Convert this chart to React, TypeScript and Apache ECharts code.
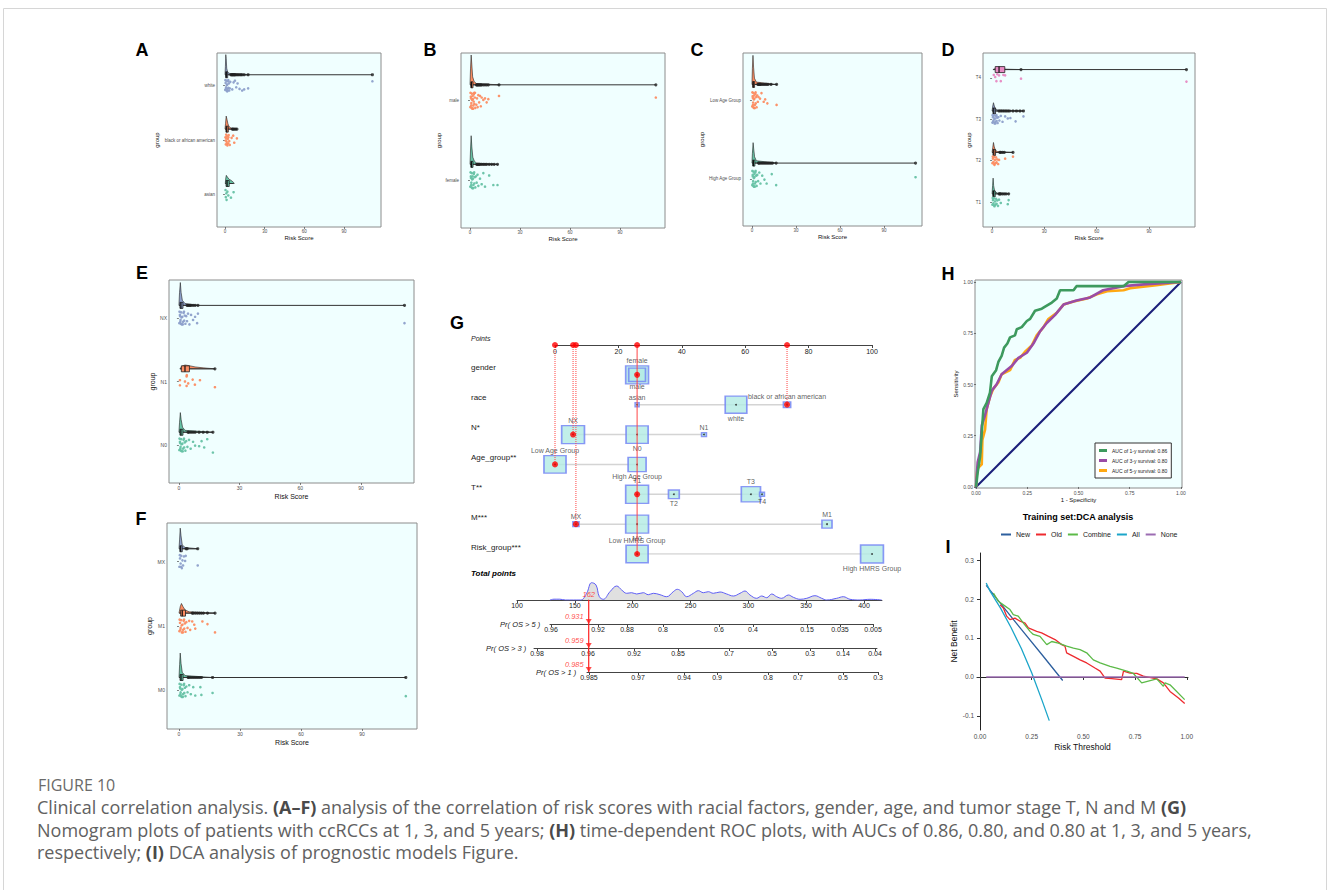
import React, { useEffect, useRef } from "react";
import * as echarts from "echarts";

const FONT = "'Liberation Sans', Arial, Helvetica, sans-serif";
const CAP_FONT = "'Open Sans', 'Noto Sans', sans-serif";
const GREEN = "#66C2A5", ORANGE = "#FC8D62", BLUE = "#8DA0CB", PINK = "#E78AC3";

// ================= Panels A–F : risk score by clinical group =================
const riskTicks = [0, 30, 60, 90];
const cloudCore = [
  [0.2, -0.08], [0.5, 0.05], [0.8, -0.03], [1.1, 0.09], [1.4, -0.1], [1.7, 0.02], [2.0, -0.06], [2.3, 0.08],
  [2.6, -0.04], [2.9, 0.04], [3.2, -0.09], [0.3, 0.1], [0.7, -0.06], [1.3, 0.01], [1.9, -0.1], [2.5, 0.1],
];

const raceGroups = ["asian", "black or african american", "white"];
const raceBoxes = [[0.3, 0.8, 1.6, 3.2, 6.5], [0.2, 0.7, 1.3, 2.5, 5], [0.1, 0.5, 1, 2, 4]];
const raceOutliers = [[], [5.5, 6.2, 7, 8, 9], [4.5, 5, 5.5, 6, 6.5, 7, 7.5, 8, 9, 10, 11, 12, 13, 14.5, 17.5, 111.5]];
const raceViolins = [
  [[0.2, 0], [0.6, 0.1], [1, 0.15], [1.8, 0.12], [3, 0.08], [4.5, 0.06], [6.5, 0.02], [7, 0]],
  [[0, 0], [0.4, 0.1], [0.9, 0.24], [1.5, 0.18], [2.2, 0.1], [3, 0.05], [4.5, 0.02], [9, 0]],
  [[0, 0], [0.3, 0.15], [0.6, 0.37], [0.9, 0.3], [1.3, 0.12], [2, 0.05], [3, 0.03], [5, 0.01], [18, 0]],
];
const racePoints = [
  [[0.4, 0.08], [0.6, -0.05], [1, 0.02], [1.2, -0.1], [1.8, 0.05], [2.5, -0.02], [4.5, -0.06], [6.5, 0.04]],
  [[0.3, 0.05], [0.6, -0.08], [0.9, 0.1], [1.2, -0.03], [1.5, 0.07], [1.8, -0.1], [2.1, 0.02], [2.4, -0.06], [2.8, 0.09], [3.2, -0.02], [0.5, -0.01], [1, 0.03], [1.7, -0.07], [2.6, 0.05], [3.6, -0.09], [5, 0.04], [6.2, 0.08], [7, -0.05], [9, 0.03]],
  [...cloudCore, [4, 0.07], [3.6, -0.05], [5.5, -0.07], [6.5, 0.06], [7.5, 0.09], [8.5, -0.03], [9.5, 0.04], [11, -0.06], [13, -0.09], [14.5, -0.07], [17.5, -0.05], [111.5, 0.08]],
];

const genderGroups = ["female", "male"];
const genderBoxes = [[0.1, 0.5, 0.9, 1.8, 3.6], [0.1, 0.5, 0.9, 1.8, 3.5]];
const genderOutliers = [[4, 4.5, 5, 5.5, 6, 7, 8, 9, 10, 11.5, 13, 14.5, 16.5], [3.8, 4.2, 4.6, 5, 5.5, 6, 6.5, 7, 8, 9, 10, 11, 17.4, 111.5]];
const genderViolins = [
  [[0, 0], [0.3, 0.18], [0.7, 0.36], [1.1, 0.22], [1.7, 0.09], [2.6, 0.04], [4, 0.015], [16.5, 0]],
  [[0, 0], [0.3, 0.2], [0.7, 0.375], [1.1, 0.25], [1.6, 0.1], [2.5, 0.04], [4, 0.015], [17.4, 0]],
];
const genderPoints = [
  [...cloudCore, [0.6, 0.03], [1, -0.09], [1.6, 0.05], [3.6, 0.05], [4, -0.03], [4.5, 0.07], [5, -0.07], [6, 0.02], [7, -0.05], [8, 0.09], [9, -0.08], [11.5, 0.06], [14, -0.06], [16.5, -0.06]],
  [...cloudCore, [0.6, 0.03], [1, -0.09], [1.6, 0.06], [2.2, -0.01], [3, 0.1], [3.8, -0.05], [4.2, 0.03], [4.6, -0.08], [5, 0.07], [5.5, -0.02], [6, 0.06], [6.5, -0.07], [7, 0.04], [8, 0.01], [9, 0.03], [10, -0.02], [11, 0.02], [17.4, 0.06], [111.5, 0.04]],
];

const ageGroups = ["High Age Group", "Low Age Group"];
const ageBoxes = [[0.1, 0.5, 1, 2, 4], [0.1, 0.5, 0.9, 1.8, 3.5]];
const ageOutliers = [[4.5, 5, 6, 7, 8, 9, 10, 11, 12, 13, 14, 16.5, 111.5], [4, 4.5, 5, 5.5, 6, 7, 8, 9, 10, 11, 13, 16.8]];
const ageViolins = [
  [[0, 0], [0.3, 0.12], [0.8, 0.26], [1.2, 0.18], [1.8, 0.08], [3, 0.03], [16.5, 0]],
  [[0, 0], [0.3, 0.2], [0.7, 0.37], [1.1, 0.22], [1.7, 0.08], [3, 0.03], [16.8, 0]],
];
const agePoints = [
  [...cloudCore, [0.6, 0.03], [1, -0.09], [1.6, 0.06], [3.6, 0.05], [4.2, -0.03], [5, 0.08], [5.8, -0.06], [7, 0.04], [8.5, -0.01], [10, -0.06], [13.5, 0.06], [16.5, -0.08], [111.5, 0.02]],
  [...cloudCore, [0.6, 0.03], [1, -0.09], [1.6, 0.06], [3.6, 0.06], [4, -0.02], [4.5, 0.04], [5.5, 0.02], [6.5, 0.09], [8, -0.02], [9, 0.01], [10.5, -0.04], [16.8, -0.06]],
];

const tGroups = ["T1", "T2", "T3", "T4"];
const tBoxes = [[0.1, 0.4, 0.9, 1.8, 3.5], [0.1, 0.5, 1, 2, 4], [0.1, 0.5, 1, 2, 4], [0.8, 1.8, 4, 7.3, 8.5]];
const tOutliers = [[4, 4.5, 5, 6, 7, 8, 9.5], [4.5, 5, 6, 7, 12], [4, 5, 6, 7, 8, 9, 10, 12, 14, 16, 18], [16.6, 111.5]];
const tViolins = [
  [[0, 0], [0.3, 0.2], [0.6, 0.38], [0.9, 0.2], [1.5, 0.06], [3, 0.02], [9.5, 0]],
  [[0, 0], [0.4, 0.12], [0.8, 0.24], [1.2, 0.15], [1.8, 0.06], [3, 0.02], [12, 0]],
  [[0, 0], [0.4, 0.12], [0.8, 0.2], [1.3, 0.12], [2, 0.05], [3.5, 0.02], [18, 0]],
  [[0.5, 0], [2, 0.03], [4, 0.04], [6, 0.03], [8, 0.01], [16.6, 0]],
];
const tPoints = [
  [[0.2, -0.06], [0.5, 0.05], [0.8, -0.03], [1.1, 0.09], [1.4, -0.1], [1.7, 0.02], [2, -0.06], [2.3, 0.08], [2.6, -0.04], [3, 0.04], [0.4, 0.1], [1.2, -0.08], [3.4, -0.09], [4, 0.06], [5, -0.02], [9, -0.05], [9.5, 0.05]],
  [[0.2, -0.06], [0.5, 0.05], [0.8, -0.03], [1.1, 0.09], [1.4, -0.1], [1.7, 0.02], [2, -0.06], [2.3, 0.08], [2.6, -0.04], [3, 0.03], [0.4, 0.1], [1.2, -0.08], [3.5, -0.08], [4, 0.02], [7.5, 0.05], [12, 0.1]],
  [...cloudCore, [3.6, 0.05], [4.2, -0.03], [5, 0.08], [6, -0.06], [7.5, 0.07], [9, 0.02], [10.5, 0.03], [13.5, -0.05], [18, 0.07]],
  [[1, 0.07], [1.8, 0.02], [2.5, -0.08], [3, 0.09], [4, 0.06], [5, -0.08], [6.5, 0.07], [7.5, 0.06], [16.6, -0.02], [111.5, -0.09]],
];

const nGroups = ["N0", "N1", "NX"];
const nBoxes = [[0.1, 0.5, 1, 2, 4], [0.5, 1.2, 3, 5.2, 10.5], [0.1, 0.5, 1, 2, 3.8]];
const nOutliers = [[4.5, 5, 6, 7, 8, 10, 12, 14, 16.8], [17.8], [4, 4.5, 5, 5.5, 6, 7, 8, 9.4, 111.5]];
const nViolins = [
  [[0, 0], [0.3, 0.15], [0.7, 0.31], [1.1, 0.2], [1.8, 0.08], [3, 0.03], [16.8, 0]],
  [[0.5, 0], [1.5, 0.04], [3, 0.06], [5, 0.05], [8, 0.03], [12, 0.015], [17.8, 0]],
  [[0, 0], [0.3, 0.2], [0.7, 0.36], [1.1, 0.2], [1.7, 0.08], [3, 0.03], [9.4, 0]],
];
const nPoints = [
  [...cloudCore, [0.6, 0.03], [1, -0.09], [3.6, 0.06], [4.2, -0.03], [5, 0.08], [5.8, -0.06], [7, 0.05], [8, -0.01], [10, -0.02], [11.2, 0.06], [12.5, -0.04], [14, 0.09], [16.8, -0.12]],
  [[0.5, 0.02], [0.5, -0.06], [3, 0], [3.8, 0.08], [3.9, 0.1], [3.8, -0.07], [4.6, -0.03], [6.8, 0.03], [7.9, -0.05], [10.4, 0.02], [17.8, -0.09]],
  [...cloudCore, [0.6, 0.03], [1, -0.09], [3.6, 0.03], [4, -0.05], [4.5, 0.07], [5.2, -0.1], [6, 0.05], [7, -0.03], [8, 0.02], [9.4, 0.07], [9, -0.08], [111.5, -0.08]],
];

const mGroups = ["M0", "M1", "MX"];
const mBoxes = [[0.1, 0.5, 1, 2, 4], [0.2, 0.8, 1.6, 3.2, 6], [0.1, 0.4, 0.8, 1.6, 3.2]];
const mOutliers = [[4.5, 5, 6, 7, 8, 9, 10, 11, 16.5, 111.5], [6.5, 7, 8, 9, 10, 11, 12, 14, 17.7], [3.5, 4, 9.2]];
const mViolins = [
  [[0, 0], [0.3, 0.2], [0.6, 0.38], [1, 0.22], [1.6, 0.08], [3, 0.03], [16.5, 0]],
  [[0, 0], [0.6, 0.1], [1.2, 0.15], [2, 0.1], [3, 0.05], [5, 0.02], [17.7, 0]],
  [[0, 0], [0.3, 0.15], [0.6, 0.32], [1, 0.2], [1.6, 0.06], [3, 0.02], [9.2, 0]],
];
const mPoints = [
  [...cloudCore, [0.6, 0.03], [1, -0.09], [3.6, 0.06], [4.2, -0.03], [5, 0.08], [5.8, -0.06], [7, 0.05], [8, -0.08], [10.5, 0.05], [11, -0.07], [16.5, -0.04], [111.5, -0.09]],
  [...cloudCore, [3.6, 0.06], [4.2, -0.03], [5, 0.08], [5.5, -0.06], [6.5, 0.07], [7.5, 0.02], [8, -0.04], [11.5, 0.07], [14, 0.03], [17.7, -0.1]],
  [[0.2, -0.08], [0.5, 0.05], [0.8, -0.03], [1.1, 0.09], [1.4, -0.1], [1.7, 0.02], [2, -0.06], [2.4, 0.08], [0.4, 0.1], [1, -0.08], [3, 0.01], [3.3, 0.09], [9.2, -0.06]],
];

// ================= Panel G : nomogram =================
const nomoRowNames = ["Points", "gender", "race", "N*", "Age_group**", "T**", "M***", "Risk_group***"];
const nomoLevels = [
  ["female", "male"],
  ["asian", "white", "black or african american"],
  ["NX", "N0", "N1"],
  ["Low Age Group", "High Age Group"],
  ["T1", "T2", "T3", "T4"],
  ["MX", "M0", "M1"],
  ["Low HMRS Group", "High HMRS Group"],
];
const nomoPoints = [[25.9, 25.9], [25.9, 57.1, 73.2], [5.7, 25.9, 47], [0, 25.9], [25.9, 37.5, 61.8, 65.3], [6.6, 25.9, 85.8], [25.9, 100]];
const nomoShare = [[0.95, 0.7], [0.12, 0.9, 0.3], [0.95, 0.92, 0.2], [0.92, 0.75], [0.95, 0.45, 0.8, 0.2], [0.25, 0.95, 0.42], [0.92, 0.95]];
const nomoLabelSide = [["top", "bottom"], ["top", "bottom", "top"], ["top", "bottom", "top"], ["top", "bottom"], ["top", "bottom", "top", "bottom"], ["top", "bottom", "top"], ["top", "bottom"]];
const patientLevel = [0, 2, 0, 0, 0, 0, 0];

const totalTicks = [100, 150, 200, 250, 300, 350, 400];
const totalRange = [100, 415.5];
const totalDensity = [
  [128.5, 0], [132, 0.8], [137, 0.8], [142, 0], [155, 0], [160.2, 6.7], [164.5, 17.3], [168.3, 15], [171.2, 3.3], [174.6, 0.7],
  [180.4, 8.3], [186.2, 14], [190.5, 10], [194.8, 6.7], [199.1, 7.3], [203.5, 6], [209.2, 7.3], [213.5, 5.3], [217.9, 6.7],
  [223.6, 5.3], [229.4, 3.3], [235.1, 8.3], [238.6, 10.7], [242.4, 8.3], [246.7, 3.3], [252.5, 6.7], [256.8, 9.3], [261.1, 7.3],
  [265.4, 8.3], [269.7, 6.7], [275.5, 8], [281.3, 6], [287, 4], [292.8, 6.7], [297.1, 9], [301.4, 5], [307.2, 1.7], [311.5, 4],
  [315.9, 2.3], [320.2, 6], [324.5, 3.3], [328.8, 1.7], [334.6, 5], [338.9, 2.7], [344.7, 0.7], [350.5, 1.7], [357.6, 4.3],
  [363.4, 1.7], [367.7, 0], [376.4, 1.7], [382.1, 3.3], [387.9, 0.7], [396.5, 0], [405.2, 0.7], [415.3, 0],
];
const pr5Labels = ["0.96", "0.92", "0.88", "0.8", "0.6", "0.4", "0.15", "0.035", "0.005"];
const pr5At = [129.4, 170.0, 195.1, 226.2, 274.6, 304.0, 350.7, 379.2, 407.8];
const pr5Range = [128.5, 407.8];
const pr3Labels = ["0.98", "0.96", "0.92", "0.85", "0.7", "0.5", "0.3", "0.14", "0.04"];
const pr3At = [117.3, 161.4, 201.2, 239.2, 283.3, 320.5, 353.3, 381.8, 409.5];
const pr3Range = [114.7, 411.2];
const pr1Labels = ["0.985", "0.97", "0.94", "0.9", "0.8", "0.7", "0.5", "0.3"];
const pr1At = [162.2, 204.6, 244.4, 272.9, 317.0, 342.9, 381.8, 412.1];
const pr1Range = [160.5, 412.1];
const patientTotal = 162;
const patientPr = ["0.931", "0.959", "0.985"];

// ================= Panel H : ROC =================
const unitTicks = [0, 0.25, 0.5, 0.75, 1];
const rocNames = ["AUC of 1-y survival: 0.86", "AUC of 3-y survival: 0.80", "AUC of 5-y survival: 0.80"];
const roc1 = [[0, 0], [0.008, 0.07], [0.02, 0.15], [0.036, 0.38], [0.052, 0.41], [0.068, 0.46], [0.077, 0.54], [0.098, 0.57], [0.109, 0.61], [0.125, 0.64], [0.137, 0.68], [0.153, 0.7], [0.166, 0.73], [0.19, 0.74], [0.199, 0.77], [0.223, 0.78], [0.248, 0.81], [0.264, 0.82], [0.288, 0.86], [0.321, 0.87], [0.337, 0.88], [0.37, 0.9], [0.394, 0.92], [0.41, 0.96], [0.476, 0.96], [0.49, 0.98], [0.72, 0.98], [0.744, 1], [1, 1]];
const roc3 = [[0, 0], [0.003, 0.05], [0.008, 0.12], [0.02, 0.17], [0.028, 0.3], [0.044, 0.35], [0.06, 0.41], [0.077, 0.47], [0.1, 0.5], [0.125, 0.55], [0.174, 0.59], [0.207, 0.63], [0.248, 0.655], [0.28, 0.7], [0.313, 0.76], [0.345, 0.8], [0.386, 0.84], [0.427, 0.89], [0.49, 0.91], [0.557, 0.925], [0.62, 0.96], [0.72, 0.98], [0.834, 0.99], [1, 1]];
const roc5 = [[0, 0], [0.003, 0.05], [0.007, 0.09], [0.028, 0.11], [0.031, 0.23], [0.044, 0.28], [0.052, 0.38], [0.068, 0.44], [0.085, 0.48], [0.109, 0.51], [0.125, 0.55], [0.166, 0.57], [0.19, 0.62], [0.215, 0.63], [0.239, 0.66], [0.272, 0.69], [0.296, 0.74], [0.329, 0.78], [0.353, 0.82], [0.394, 0.85], [0.427, 0.89], [0.476, 0.905], [0.541, 0.92], [0.59, 0.94], [0.64, 0.955], [0.72, 0.96], [0.752, 0.97], [0.88, 0.985], [1, 1]];
const rocDiag = [[0, 0], [1, 1]];

// ================= Panel I : DCA =================
const dcaNames = ["New", "Old", "Combine", "All", "None"];
const netTicks = [-0.1, 0, 0.1, 0.2, 0.3];
const dcaNew = [[0.03, 0.235], [0.1, 0.188], [0.2, 0.122], [0.3, 0.057], [0.4, -0.009]];
const dcaOld = [[0.097, 0.185], [0.113, 0.177], [0.129, 0.156], [0.145, 0.147], [0.169, 0.151], [0.194, 0.143], [0.218, 0.138], [0.234, 0.126], [0.274, 0.117], [0.298, 0.113], [0.331, 0.104], [0.363, 0.096], [0.395, 0.083], [0.411, 0.079], [0.419, 0.062], [0.452, 0.053], [0.484, 0.044], [0.516, 0.036], [0.556, 0.023], [0.581, 0.015], [0.605, -0.003], [0.637, -0.004], [0.685, -0.007], [0.694, 0.015], [0.726, 0.01], [0.758, 0.009], [0.79, 0.002], [0.855, -0.005], [0.887, -0.015], [0.919, -0.037], [0.96, -0.054], [0.99, -0.068]];
const dcaCombine = [[0.065, 0.215], [0.089, 0.194], [0.113, 0.185], [0.145, 0.173], [0.161, 0.16], [0.185, 0.156], [0.21, 0.138], [0.242, 0.117], [0.258, 0.109], [0.29, 0.104], [0.323, 0.083], [0.347, 0.091], [0.379, 0.087], [0.419, 0.079], [0.452, 0.074], [0.484, 0.07], [0.516, 0.062], [0.548, 0.044], [0.581, 0.036], [0.629, 0.027], [0.661, 0.023], [0.71, 0.015], [0.742, 0.009], [0.782, -0.015], [0.855, -0.005], [0.887, -0.024], [0.895, -0.015], [0.919, -0.02], [0.99, -0.058]];
const dcaAll = [[0.03, 0.241], [0.05, 0.219], [0.1, 0.176], [0.15, 0.127], [0.2, 0.073], [0.25, 0.011], [0.3, -0.06], [0.335, -0.112]];
const dcaNone = [[0.03, 0], [0.99, 0]];

const captionLines = [
  "Clinical correlation analysis. {b|(A\u2013F)} analysis of the correlation of risk scores with racial factors, gender, age, and tumor stage T, N and M {b|(G)}",
  "Nomogram plots of patients with ccRCCs at 1, 3, and 5 years; {b|(H)} time-dependent ROC plots, with AUCs of 0.86, 0.80, and 0.80 at 1, 3, and 5 years,",
  "respectively; {b|(I)} DCA analysis of prognostic models Figure.",
];

const rainPanels = [
  { rect: [217, 53, 164, 174], x: [-6.05, 118], names: raceGroups, colors: [GREEN, ORANGE, BLUE], boxes: raceBoxes, outliers: raceOutliers, violins: raceViolins, points: racePoints, yGap: 57, xGap: 8, fs: 4.5, ts: 6 },
  { rect: [461, 53, 204, 175], x: [-5.4, 117], names: genderGroups, colors: [GREEN, ORANGE], boxes: genderBoxes, outliers: genderOutliers, violins: genderViolins, points: genderPoints, yGap: 17, xGap: 8, fs: 4.5, ts: 6 },
  { rect: [743, 53, 179, 173], x: [-6.1, 115.9], names: ageGroups, colors: [GREEN, ORANGE], boxes: ageBoxes, outliers: ageOutliers, violins: ageViolins, points: agePoints, yGap: 36, xGap: 8, fs: 4.5, ts: 6 },
  { rect: [983, 53, 212, 174], x: [-5.2, 116.4], names: tGroups, colors: [GREEN, ORANGE, BLUE, PINK], boxes: tBoxes, outliers: tOutliers, violins: tViolins, points: tPoints, yGap: 9, xGap: 8, fs: 4.5, ts: 6 },
  { rect: [169, 280, 245, 203], x: [-4.9, 116.2], names: nGroups, colors: [GREEN, ORANGE, BLUE], boxes: nBoxes, outliers: nOutliers, violins: nViolins, points: nPoints, yGap: 13, xGap: 10, fs: 5, ts: 7 },
  { rect: [167, 523, 250, 206], x: [-5.9, 117], names: mGroups, colors: [GREEN, ORANGE, BLUE], boxes: mBoxes, outliers: mOutliers, violins: mViolins, points: mPoints, yGap: 14, xGap: 10, fs: 5, ts: 7 },
];

function nearest(arr: number[], v: number) {
  let bi = 0;
  arr.forEach((a, i) => { if (Math.abs(a - v) < Math.abs(arr[bi] - v)) bi = i; });
  return bi;
}

function buildOption() {
  const grid: any[] = [], xAxis: any[] = [], yAxis: any[] = [], series: any[] = [], graphic: any[] = [];
  const hidden = { show: false };

  // ---------- A–F ----------
  rainPanels.forEach((p) => {
    const gi = grid.length;
    grid.push({ left: p.rect[0], top: p.rect[1], width: p.rect[2], height: p.rect[3], show: true, backgroundColor: "#F0FFFF", borderColor: "#8c8c8c", borderWidth: 1 });
    const cats = p.names.map((_: any, i: number) => i + 1);
    xAxis.push({
      gridIndex: gi, type: "value", min: p.x[0], max: p.x[1], splitLine: hidden, axisLine: hidden,
      axisTick: { show: true, customValues: riskTicks, length: 2, lineStyle: { color: "#333", width: 0.6 } },
      axisLabel: { customValues: riskTicks, fontSize: p.fs, color: "#4d4d4d", margin: 2 },
      name: "Risk Score", nameLocation: "middle", nameGap: p.xGap, nameTextStyle: { fontSize: p.ts, color: "#111" },
    });
    yAxis.push({
      gridIndex: gi, type: "value", min: 0.4, max: p.names.length + 0.6, splitLine: hidden, axisLine: hidden,
      axisTick: { show: true, customValues: cats, length: 2, lineStyle: { color: "#333", width: 0.6 } },
      axisLabel: { customValues: cats, formatter: (v: number) => p.names[Math.round(v) - 1], fontSize: p.fs, color: "#4d4d4d", margin: 2 },
      name: "group", nameLocation: "middle", nameGap: p.yGap, nameRotate: 90, nameTextStyle: { fontSize: p.ts, color: "#111" },
    });
    // half violins
    series.push({
      type: "custom", xAxisIndex: gi, yAxisIndex: gi, clip: false, silent: true,
      data: p.names.map((_: any, i: number) => [0, i + 1, i]), encode: { x: 0, y: 1 },
      renderItem: (params: any, api: any) => {
        const g = api.value(2);
        const prof = p.violins[g];
        const base = g + 1.2;
        const pts = prof.map((d: number[]) => api.coord([d[0], base + d[1]]));
        pts.push(api.coord([prof[prof.length - 1][0], base]));
        pts.push(api.coord([prof[0][0], base]));
        return { type: "polygon", shape: { points: pts }, style: { fill: p.colors[g], stroke: "#222", lineWidth: 0.6 } };
      },
    });
    // box + connecting line
    series.push({
      type: "custom", xAxisIndex: gi, yAxisIndex: gi, clip: false, silent: true,
      data: p.names.map((_: any, i: number) => [0, i + 1, i]), encode: { x: 0, y: 1 },
      renderItem: (params: any, api: any) => {
        const g = api.value(2);
        const [lo, q1, med, q3, hi] = p.boxes[g];
        const y = g + 1.2;
        const far = Math.max(hi, ...p.outliers[g]);
        const a = api.coord([lo, y]), b = api.coord([far, y]);
        const c1 = api.coord([q1, y]), c3 = api.coord([q3, y]), m = api.coord([med, y]);
        const bh = 3;
        return {
          type: "group", children: [
            { type: "line", shape: { x1: a[0], y1: a[1], x2: b[0], y2: b[1] }, style: { stroke: "#333", lineWidth: 1 } },
            { type: "rect", shape: { x: c1[0], y: c1[1] - bh, width: Math.max(c3[0] - c1[0], 1.5), height: 2 * bh }, style: { fill: p.colors[g], stroke: "#222", lineWidth: 0.8 } },
            { type: "line", shape: { x1: m[0], y1: m[1] - bh, x2: m[0], y2: m[1] + bh }, style: { stroke: "#111", lineWidth: 1.2 } },
          ],
        };
      },
    });
    // outliers
    series.push({
      type: "scatter", xAxisIndex: gi, yAxisIndex: gi, symbolSize: 3.2, silent: true,
      itemStyle: { color: "#222" },
      data: p.outliers.flatMap((arr: number[], g: number) => arr.map((x) => [x, g + 1.2])),
    });
    // jittered points
    p.points.forEach((arr: number[][], g: number) => {
      series.push({
        type: "scatter", xAxisIndex: gi, yAxisIndex: gi, symbolSize: 2.6, silent: true,
        itemStyle: { color: p.colors[g], opacity: 0.95 },
        data: arr.map((d) => [d[0], g + 1 + d[1]]),
      });
    });
  });

  // ---------- H : ROC ----------
  const gH = grid.length;
  grid.push({ left: 975, top: 280, width: 207, height: 208, show: true, backgroundColor: "#F0FFFF", borderColor: "#8c8c8c", borderWidth: 1 });
  const unitAxis = (gi: number, min: number, max: number, name: string, gap: number, rotate?: number) => ({
    gridIndex: gi, type: "value", min, max, splitLine: hidden, axisLine: hidden,
    axisTick: { show: true, customValues: unitTicks, length: 2, lineStyle: { color: "#333", width: 0.6 } },
    axisLabel: { customValues: unitTicks, formatter: (v: number) => v.toFixed(2), fontSize: 5, color: "#4d4d4d", margin: 2 },
    name, nameLocation: "middle", nameGap: gap, nameRotate: rotate, nameTextStyle: { fontSize: 6, color: "#111" },
  });
  xAxis.push(unitAxis(gH, -0.005, 1.005, "1 - Specificity", 9));
  yAxis.push(unitAxis(gH, -0.005, 1.01, "Sensitivity", 16, 90));
  series.push({ type: "line", name: "diag", xAxisIndex: gH, yAxisIndex: gH, data: rocDiag, symbol: "none", lineStyle: { color: "#1B1F7A", width: 2 }, silent: true });
  const rocColors = ["#3D9A5E", "#9A4CA6", "#FFA812"];
  [roc1, roc3, roc5].forEach((d, i) => {
    series.push({ type: "line", name: rocNames[i], xAxisIndex: gH, yAxisIndex: gH, data: d, symbol: "none", lineStyle: { color: rocColors[i], width: 2.6 }, itemStyle: { color: rocColors[i] }, silent: true, z: 3 + (2 - i) });
  });

  // ---------- I : DCA ----------
  const gI = grid.length;
  grid.push({ left: 977, top: 553, width: 211, height: 177 });
  xAxis.push({
    gridIndex: gI, type: "value", min: -0.0145, max: 1.006, splitLine: hidden,
    axisLine: { show: true, lineStyle: { color: "#222", width: 1 } },
    axisTick: { show: true, customValues: unitTicks, length: 3, lineStyle: { color: "#333" } },
    axisLabel: { customValues: unitTicks, formatter: (v: number) => v.toFixed(2), fontSize: 6.5, color: "#4d4d4d", margin: 3 },
    name: "Risk Threshold", nameLocation: "middle", nameGap: 12, nameTextStyle: { fontSize: 8.5, color: "#111" },
  });
  yAxis.push({
    gridIndex: gI, type: "value", min: -0.136, max: 0.318, splitLine: hidden,
    axisLine: { show: true, lineStyle: { color: "#222", width: 1 } },
    axisTick: { show: true, customValues: netTicks, length: 3, lineStyle: { color: "#333" } },
    axisLabel: { customValues: netTicks, formatter: (v: number) => v.toFixed(1), fontSize: 6.5, color: "#4d4d4d", margin: 3 },
    name: "Net Benefit", nameLocation: "middle", nameGap: 19, nameRotate: 90, nameTextStyle: { fontSize: 8.5, color: "#111" },
  });
  const dcaColors = ["#2D5F9E", "#EE2A2F", "#5CBA48", "#1BA5C9", "#9C6CB2"];
  [dcaNew, dcaOld, dcaCombine, dcaAll, dcaNone].forEach((d, i) => {
    series.push({ type: "line", name: dcaNames[i], xAxisIndex: gI, yAxisIndex: gI, data: d, symbol: "none", lineStyle: { color: dcaColors[i], width: 1.3 }, itemStyle: { color: dcaColors[i] }, silent: true });
  });

  // ---------- G : nomogram ----------
  const gN = grid.length;
  grid.push({ left: 555, top: 345, width: 317, height: 209 });
  xAxis.push({
    gridIndex: gN, type: "value", min: 0, max: 100, interval: 20, position: "top", splitLine: hidden,
    axisLine: { show: true, lineStyle: { color: "#444", width: 1 } },
    axisTick: { show: true, inside: true, length: 3, lineStyle: { color: "#444" } },
    axisLabel: { inside: true, fontSize: 7, color: "#222", margin: 3 },
  });
  const rowIdx = nomoRowNames.map((_, i) => i);
  yAxis.push({
    gridIndex: gN, type: "value", min: 0, max: 7, inverse: true, splitLine: hidden, axisLine: hidden, axisTick: hidden,
    axisLabel: {
      customValues: rowIdx, align: "left", margin: 84, verticalAlign: "bottom", padding: [0, 0, 3, 0],
      formatter: (v: number) => (Math.round(v) === 0 ? "{it|Points}" : nomoRowNames[Math.round(v)]),
      fontSize: 8, color: "#222", rich: { it: { fontStyle: "italic", fontSize: 7, color: "#222" } },
    },
  });
  nomoLevels.forEach((_, i) => {
    const pts = nomoPoints[i];
    series.push({ type: "line", xAxisIndex: gN, yAxisIndex: gN, data: [[Math.min(...pts), i + 1], [Math.max(...pts), i + 1]], symbol: "none", lineStyle: { color: "#D4D4D4", width: 1.5 }, silent: true, z: 1 });
  });
  const boxData: any[] = [];
  const dotData: any[] = [];
  nomoLevels.forEach((levels, i) => levels.forEach((name, j) => {
    const s = nomoShare[i][j];
    boxData.push({ name, value: [nomoPoints[i][j], i + 1], symbolSize: [Math.max(4, s * 24), Math.max(4, s * 19)], label: { show: true, position: nomoLabelSide[i][j], distance: 1, formatter: "{b}" } });
    dotData.push([nomoPoints[i][j], i + 1]);
  }));
  series.push({ type: "scatter", xAxisIndex: gN, yAxisIndex: gN, symbol: "rect", data: boxData, itemStyle: { color: "#B2EBE3", borderColor: "#6F80F5", borderWidth: 1.5 }, label: { fontSize: 7, color: "#333" }, labelLayout: { hideOverlap: false }, silent: true, z: 3 });
  series.push({ type: "scatter", xAxisIndex: gN, yAxisIndex: gN, symbolSize: 1.8, data: dotData, itemStyle: { color: "#111" }, silent: true, z: 4 });
  const selX = patientLevel.map((l, i) => nomoPoints[i][l]);
  const uniqX = Array.from(new Set(selX));
  uniqX.forEach((x) => {
    const rows = selX.map((v, i) => (v === x ? i + 1 : -1)).filter((r) => r > 0);
    series.push({ type: "line", xAxisIndex: gN, yAxisIndex: gN, data: [[x, 0], [x, Math.max(...rows)]], symbol: "none", lineStyle: { color: "#FF4545", width: 1, type: rows.length > 1 ? "solid" : "dotted" }, silent: true, z: 5 });
  });
  series.push({
    type: "scatter", xAxisIndex: gN, yAxisIndex: gN, symbolSize: 6, itemStyle: { color: "#FF0000" }, silent: true, z: 6,
    data: [...selX.map((x, i) => [x, i + 1]), ...uniqX.map((x) => [x, 0])],
  });

  // total points
  const TP_PX0 = 517, TP_K = 1.1567;
  const tpLeft = (v: number) => TP_PX0 + (v - 100) * TP_K;
  const gT = grid.length;
  grid.push({ left: tpLeft(totalRange[0]), top: 575, width: (totalRange[1] - totalRange[0]) * TP_K, height: 25 });
  xAxis.push({
    gridIndex: gT, type: "value", min: totalRange[0], max: totalRange[1], splitLine: hidden,
    axisLine: { show: true, lineStyle: { color: "#444", width: 1 } },
    axisTick: { show: true, customValues: totalTicks, length: 3, lineStyle: { color: "#444" } },
    axisLabel: { customValues: totalTicks, fontSize: 7, color: "#222", margin: 2 },
  });
  yAxis.push({ gridIndex: gT, type: "value", min: 0, max: 25, show: false });
  series.push({ type: "line", xAxisIndex: gT, yAxisIndex: gT, data: totalDensity, smooth: 0.4, symbol: "none", lineStyle: { color: "#5E5EF5", width: 1 }, areaStyle: { color: "#E0E0E0", opacity: 1 }, silent: true });

  const prDefs = [
    [pr5At, pr5Labels, pr5Range, "Pr( OS > 5 )"],
    [pr3At, pr3Labels, pr3Range, "Pr( OS > 3 )"],
    [pr1At, pr1Labels, pr1Range, "Pr( OS > 1 )"],
  ] as any[];
  prDefs.forEach(([at, labels, range, name], k) => {
    const gi = grid.length;
    const rowY = 600 + 24 * (k + 1);
    grid.push({ left: tpLeft(range[0]), width: (range[1] - range[0]) * TP_K, top: rowY - 10, height: 10 });
    xAxis.push({
      gridIndex: gi, type: "value", min: range[0], max: range[1], splitLine: hidden,
      axisLine: { show: true, lineStyle: { color: "#444", width: 1 } },
      axisTick: { show: true, customValues: at, length: 3, lineStyle: { color: "#444" } },
      axisLabel: { customValues: at, formatter: (v: number) => labels[nearest(at, v)], fontSize: 7, color: "#222", margin: 2 },
      name, nameLocation: "start", nameGap: 2, nameTextStyle: { fontStyle: "italic", fontSize: 7.5, color: "#222", padding: [0, 0, 5, 0] },
    });
    yAxis.push({ gridIndex: gi, type: "value", min: 0, max: 1, show: false });
  });

  // patient marker overlay
  const gO = grid.length;
  grid.push({ left: tpLeft(totalRange[0]), top: 600, width: (totalRange[1] - totalRange[0]) * TP_K, height: 72 });
  xAxis.push({ gridIndex: gO, type: "value", min: totalRange[0], max: totalRange[1], show: false });
  yAxis.push({ gridIndex: gO, type: "value", min: 0, max: 3, inverse: true, show: false });
  series.push({ type: "line", xAxisIndex: gO, yAxisIndex: gO, data: [[patientTotal, 0], [patientTotal, 3]], symbol: "none", lineStyle: { color: "#FF2020", width: 1.2 }, silent: true, z: 6 });
  series.push({
    type: "scatter", xAxisIndex: gO, yAxisIndex: gO, symbol: "triangle", symbolRotate: 180, symbolSize: [6, 5], symbolOffset: [0, -2.5],
    itemStyle: { color: "#FF2020" }, silent: true, z: 7,
    data: patientPr.map((t, k) => ({ value: [patientTotal, k + 1], name: t })),
    label: { show: true, position: "left", distance: 2, offset: [0, -5], formatter: "{b}", color: "#FF2020", fontStyle: "italic", fontSize: 7.5 },
  });
  series.push({
    type: "scatter", xAxisIndex: gO, yAxisIndex: gO, symbolSize: 1, itemStyle: { color: "#FF2020" }, silent: true, z: 7,
    data: [{ value: [patientTotal, 0], name: String(patientTotal) }],
    label: { show: true, position: "top", distance: 1, formatter: "{b}", color: "#FF2020", fontStyle: "italic", fontSize: 7.5 },
  });

  // ---------- graphic texts ----------
  graphic.push({ type: "rect", silent: true, z: -10, shape: { x: 3.5, y: 8.5, width: 1323, height: 900 }, style: { fill: "none", stroke: "#d6d6d6", lineWidth: 1 } });
  const letters: [string, number, number][] = [["A", 142, 50], ["B", 430, 50], ["C", 697, 50], ["D", 948, 50], ["E", 142, 273], ["F", 141, 519], ["G", 457, 323], ["H", 948, 274], ["I", 948, 547]];
  letters.forEach(([t, x, y]) => graphic.push({ type: "text", x, y, style: { text: t, fontSize: 18, fontWeight: "bold", fontFamily: FONT, fill: "#000", align: "center", verticalAlign: "middle" } }));
  graphic.push({ type: "text", x: 471, y: 573, style: { text: "Total points", fontSize: 8, fontWeight: "bold", fontStyle: "italic", fontFamily: FONT, fill: "#000", align: "left", verticalAlign: "middle" } });
  graphic.push({ type: "text", x: 1078, y: 517, style: { text: "Training set:DCA analysis", fontSize: 9, fontWeight: "bold", fontFamily: FONT, fill: "#000", align: "center", verticalAlign: "middle" } });
  graphic.push({ type: "text", x: 38, y: 785, style: { text: "FIGURE 10", fontSize: 16, fontFamily: CAP_FONT, fill: "#6a6a6a", align: "left", verticalAlign: "middle" } });
  captionLines.forEach((t, i) => graphic.push({
    type: "text", x: 37, y: 807 + i * 22.7,
    style: { text: t, fontSize: 18, fontFamily: CAP_FONT, fill: "#616161", align: "left", verticalAlign: "middle", rich: { b: { fontWeight: "bold", fontSize: 18, fontFamily: CAP_FONT, fill: "#4a4a4a" } } },
  }));

  return {
    animation: false,
    backgroundColor: "#ffffff",
    textStyle: { fontFamily: FONT },
    grid, xAxis, yAxis, series, graphic,
    legend: [
      {
        data: rocNames, left: 1095, top: 443, orient: "vertical", selectedMode: false, icon: "rect",
        itemWidth: 8, itemHeight: 3, itemGap: 5, padding: [5, 4, 5, 4],
        borderColor: "#333", borderWidth: 1, backgroundColor: "#fff",
        textStyle: { fontSize: 5, color: "#222", fontFamily: FONT },
      },
      {
        data: dcaNames, left: 1001, top: 531, orient: "horizontal", selectedMode: false, icon: "rect",
        itemWidth: 10, itemHeight: 2, itemGap: 6, padding: 0,
        textStyle: { fontSize: 7, color: "#222", fontFamily: FONT },
      },
    ],
  };
}

export default function App() {
  const ref = useRef<HTMLDivElement>(null);
  useEffect(() => {
    document.body.style.margin = "0";
    const chart = echarts.init(ref.current as HTMLDivElement, undefined, { renderer: "svg" });
    chart.setOption(buildOption() as any);
    return () => chart.dispose();
  }, []);
  return <div ref={ref} style={{ width: 1330, height: 890 }} />;
}
